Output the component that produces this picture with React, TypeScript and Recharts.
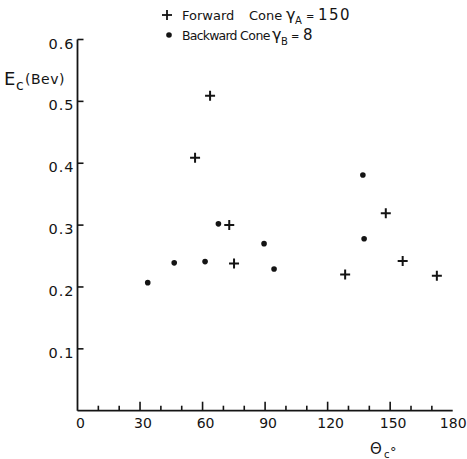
import React from 'react';
import { ScatterChart, Scatter, XAxis, YAxis } from 'recharts';

// Forward cone (plus markers)
const forwardTheta = [56.4, 63.6, 72.8, 75.1, 128.4, 147.9, 156.0, 172.4];
const forwardE = [0.409, 0.509, 0.300, 0.238, 0.220, 0.319, 0.242, 0.218];
// Backward cone (filled dots)
const backwardTheta = [33.7, 46.4, 61.2, 67.6, 89.5, 94.3, 136.9, 137.5];
const backwardE = [0.207, 0.239, 0.241, 0.302, 0.270, 0.229, 0.381, 0.278];

const xTicks = [0, 10, 20, 30, 40, 50, 60, 70, 80, 90, 100, 110, 120, 130, 140, 150, 160, 170, 180];
const xLabelStep = 30;
const yTicks = [0.1, 0.2, 0.3, 0.4, 0.5, 0.6];

const forwardData = forwardTheta.map((t, i) => ({ theta: t, e: forwardE[i] }));
const backwardData = backwardTheta.map((t, i) => ({ theta: t, e: backwardE[i] }));

const FONT = '"DejaVu Sans", Verdana, sans-serif';
const INK = '#141414';

const PlusShape = (props: any) => {
  const { cx, cy } = props;
  return (
    <g>
      <line x1={cx - 5} y1={cy} x2={cx + 5} y2={cy} stroke={INK} strokeWidth={2} />
      <line x1={cx} y1={cy - 5} x2={cx} y2={cy + 5} stroke={INK} strokeWidth={2} />
    </g>
  );
};

const DotShape = (props: any) => {
  const { cx, cy } = props;
  return <circle cx={cx} cy={cy} r={2.8} fill={INK} />;
};

const XTick = (props: any) => {
  const { x, y, payload } = props;
  const v = payload.value;
  const major = v % xLabelStep === 0;
  const len = major ? 9 : 5;
  const dx = v === 180 ? 0.5 : 3;
  return (
    <g>
      {v > 0 && v < 180 && (
        <line x1={x} x2={x} y1={y} y2={y - len} stroke={INK} strokeWidth={1.6} />
      )}
      {major && (
        <text x={x + dx} y={y + 17.5} textAnchor="middle" fontSize={14} fontFamily={FONT} fill={INK}>
          {v}
        </text>
      )}
    </g>
  );
};

const YTickLeft = (props: any) => {
  const { x, y, payload } = props;
  const v = payload.value;
  return (
    <g>
      <line x1={x} x2={x + 6} y1={y} y2={y} stroke={INK} strokeWidth={1.6} />
      <text x={x - 3} y={y + 9} textAnchor="end" fontSize={14.5} fontFamily={FONT} fill={INK} letterSpacing={1}>
        {v.toFixed(1)}
      </text>
    </g>
  );
};

const YTickRight = (props: any) => {
  const { x, y } = props;
  return <line x1={x - 7} x2={x} y1={y} y2={y} stroke={INK} strokeWidth={1.6} />;
};

export default function App() {
  return (
    <div style={{ position: 'absolute', left: 0, top: 0, width: 467, height: 459, background: '#fff' }}>
      <ScatterChart
        width={467}
        height={459}
        margin={{ top: 39.5, right: 14.3, left: 17.5, bottom: 18.3 }}
      >
        <XAxis
          type="number"
          dataKey="theta"
          domain={[0, 180]}
          ticks={xTicks}
          interval={0}
          height={30}
          tickSize={0}
          tickMargin={0}
          tickLine={false}
          tick={<XTick />}
          axisLine={{ stroke: INK, strokeWidth: 1.8 }}
          allowDataOverflow
        />
        <YAxis
          type="number"
          dataKey="e"
          domain={[0, 0.6]}
          ticks={yTicks}
          interval={0}
          width={60}
          tickSize={0}
          tickMargin={0}
          tickLine={false}
          tick={<YTickLeft />}
          axisLine={{ stroke: INK, strokeWidth: 1.8 }}
          allowDataOverflow
        />
        <YAxis
          yAxisId="right"
          orientation="right"
          type="number"
          domain={[0, 0.6]}
          ticks={yTicks}
          interval={0}
          width={0}
          tickSize={0}
          tickMargin={0}
          tickLine={false}
          tick={<YTickRight />}
          axisLine={{ stroke: INK, strokeWidth: 1.8 }}
          allowDataOverflow
        />
        <Scatter name="Forward Cone" data={forwardData} shape={<PlusShape />} isAnimationActive={false} />
        <Scatter name="Backward Cone" data={backwardData} shape={<DotShape />} isAnimationActive={false} />
      </ScatterChart>
      <svg
        width={467}
        height={459}
        style={{ position: 'absolute', left: 0, top: 0, pointerEvents: 'none' }}
        fontFamily={FONT}
        fill={INK}
      >
        {/* legend */}
        <line x1={162} x2={172} y1={15} y2={15} stroke={INK} strokeWidth={1.8} />
        <line x1={167} x2={167} y1={10} y2={20} stroke={INK} strokeWidth={1.8} />
        <text y={19.5} fontSize={13}>
          <tspan x={182}>Forward</tspan>
          <tspan x={249}>Cone</tspan>
          <tspan x={286} fontSize={16}>γ</tspan>
          <tspan x={295} y={24} fontSize={10}>A</tspan>
          <tspan x={306} y={19.5} fontSize={10}>=</tspan>
          <tspan x={318} fontSize={15} letterSpacing={1.5}>150</tspan>
        </text>

        <circle cx={169} cy={35} r={2.8} fill={INK} />
        <text y={40} fontSize={12.5}>
          <tspan x={182} letterSpacing={-0.8}>Backward</tspan>
          <tspan x={240} letterSpacing={-0.5}>Cone</tspan>
          <tspan x={272} fontSize={16}>γ</tspan>
          <tspan x={281} y={45} fontSize={10}>B</tspan>
          <tspan x={291} y={40} fontSize={10}>=</tspan>
          <tspan x={303} fontSize={15}>8</tspan>
        </text>

        {/* y axis title */}
        <text fontSize={14}>
          <tspan x={4} y={85} fontSize={18}>E</tspan>
          <tspan x={16} y={90} fontSize={14}>c</tspan>
          <tspan x={25} y={83.5} fontSize={14} letterSpacing={0.5}>(Bev)</tspan>
        </text>

        {/* x axis title */}
        <text fontSize={15}>
          <tspan x={370} y={454} fontSize={15}>Θ</tspan>
          <tspan x={384} y={457.5} fontSize={10}>c</tspan>
          <tspan x={390} y={455.5} fontSize={13}>°</tspan>
        </text>
      </svg>
    </div>
  );
}
